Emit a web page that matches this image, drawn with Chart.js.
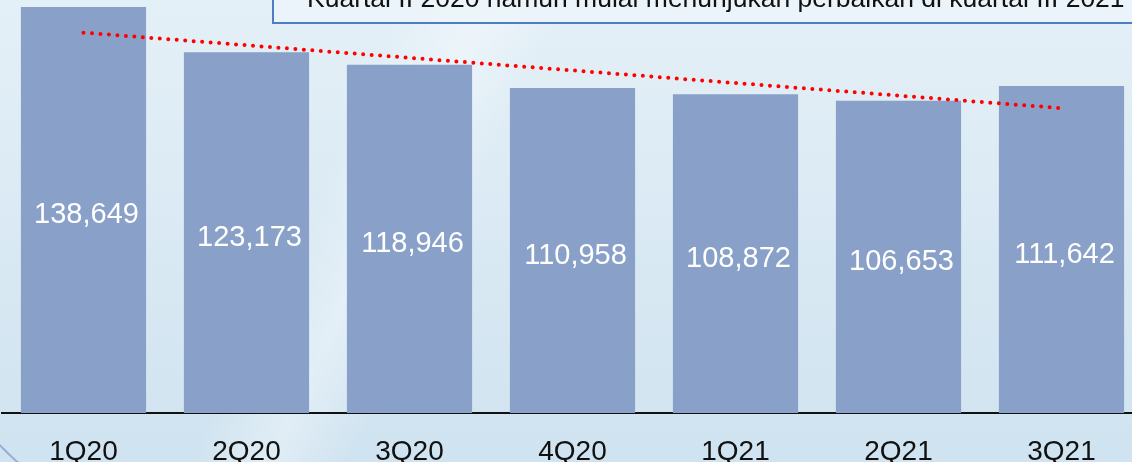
<!DOCTYPE html>
<html>
<head>
<meta charset="utf-8">
<script src="https://cdn.jsdelivr.net/npm/chart.js@4"></script>
<style>
  html, body { margin: 0; padding: 0; }
  body {
    width: 1132px; height: 462px; overflow: hidden; position: relative;
    font-family: "Liberation Sans", Arial, sans-serif;
    background:
      linear-gradient(115deg, rgba(255,255,255,0) 0%, rgba(255,255,255,0) 30%, rgba(255,255,255,0.35) 36%, rgba(255,255,255,0) 42%, rgba(255,255,255,0) 100%),
      linear-gradient(180deg, #e4f0f7 0%, #dbeaf4 45%, #cfe3f0 100%);
  }
  #wrap { position: absolute; left: 0; top: 0; width: 1143px; height: 462px; }
  #note {
    position: absolute; left: 272px; top: -20px; width: 900px; height: 44px;
    border: 2px solid #4f7cc6; background: rgba(236,244,250,0.85);
    box-sizing: border-box;
  }
  #note span {
    position: absolute; left: 33px; top: 1px; font-size: 26.5px; color: #111; white-space: nowrap;
  }
  #corner { position: absolute; left: 0; top: 430px; width: 40px; height: 32px; overflow: hidden; }
  #arc {
    position: absolute; left: -122px; top: -702px; width: 844px; height: 844px;
    border-radius: 50%; border: 2px solid rgba(110,140,200,0.6); box-sizing: border-box;
  }
</style>
</head>
<body>
<div id="corner"><div id="arc"></div></div>
<div id="wrap"><canvas id="grafico" width="1143" height="462"></canvas></div>
<div id="note"><span>Kuartal II 2020 namun mulai menunjukan perbaikan di kuartal III 2021</span></div>
<script>
// Dados
const quarters = ['1Q20', '2Q20', '3Q20', '4Q20', '1Q21', '2Q21', '3Q21'];
const values = [138649, 123173, 118946, 110958, 108872, 106653, 111642];
// linha de tendência (início e fim)
const trend = [129900, null, null, null, null, null, 104100];

const barLabels = {
    id: 'barLabels',
    afterDatasetsDraw(chart) {
        const ctx = chart.ctx;
        const meta = chart.getDatasetMeta(1);
        ctx.save();
        ctx.font = '29px "Liberation Sans", Arial, sans-serif';
        ctx.fillStyle = '#ffffff';
        ctx.textAlign = 'center';
        ctx.textBaseline = 'middle';
        meta.data.forEach((bar, i) => {
            const y = (bar.y + bar.base) / 2 + 5;
            ctx.fillText(values[i].toLocaleString('en-US'), bar.x + 3, y);
        });
        ctx.restore();
    }
};

const ctx = document.getElementById('grafico').getContext('2d');
new Chart(ctx, {
    data: {
        labels: quarters,
        datasets: [
            {
                type: 'line', data: trend, spanGaps: true,
                borderColor: '#ff0000', borderWidth: 4, borderDash: [0, 8.5],
                borderCapStyle: 'round', pointRadius: 0, order: 0
            },
            {
                type: 'bar', data: values, backgroundColor: '#89a0c9',
                categoryPercentage: 1, barPercentage: 0.768, order: 1
            }
        ]
    },
    options: {
        responsive: false,
        animation: false,
        layout: { padding: { left: 2, right: 0, top: 0, bottom: 0 } },
        plugins: { legend: { display: false }, tooltip: { enabled: false } },
        scales: {
            x: {
                grid: { display: false },
                border: { display: true, color: '#111111', width: 2 },
                ticks: {
                    color: '#111111', padding: 14,
                    font: { size: 28, family: '"Liberation Sans", Arial, sans-serif' }
                },
                afterFit: axis => { axis.height = 49; }
            },
            y: { display: false, min: 0, max: 141050 }
        }
    },
    plugins: [barLabels]
});
</script>
</body>
</html>
